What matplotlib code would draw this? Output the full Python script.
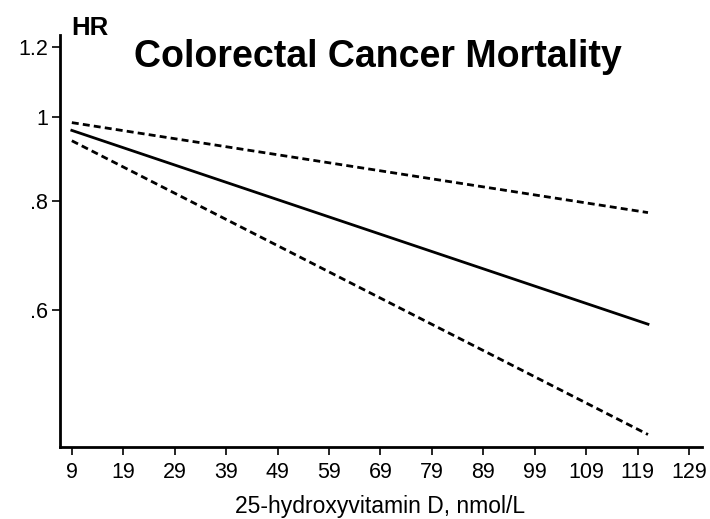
import matplotlib.pyplot as plt
from matplotlib.ticker import FixedLocator, FixedFormatter, NullLocator

plt.rcParams['font.family'] = ['Liberation Sans', 'DejaVu Sans']

# fitted HR (log-linear), read at the two ends of the curve
x_vals = [9, 121]
hr = [0.964, 0.578]
hr_upper = [0.984, 0.776]
hr_lower = [0.938, 0.432]

x_ticks = list(range(9, 130, 10))
y_ticks = [0.6, 0.8, 1.0, 1.2]
y_labels = [".6", ".8", "1", "1.2"]

fig = plt.figure(figsize=(7.1, 5.19), dpi=100)
ax = fig.add_axes([60 / 710, 72 / 519, 642 / 710, 412 / 519])

ax.plot(x_vals, hr, color='black', linewidth=2.0)
ax.plot(x_vals, hr_upper, color='black', linewidth=2.0, linestyle=(0, (2.5, 1.5)))
ax.plot(x_vals, hr_lower, color='black', linewidth=2.0, linestyle=(0, (2.5, 1.5)))

ax.set_yscale('log')
ax.set_ylim(0.418, 1.24)
ax.set_xlim(6.7, 131.5)
ax.yaxis.set_major_locator(FixedLocator(y_ticks))
ax.yaxis.set_major_formatter(FixedFormatter(y_labels))
ax.yaxis.set_minor_locator(NullLocator())
ax.set_xticks(x_ticks)

for side in ['top', 'right']:
    ax.spines[side].set_visible(False)
for side in ['left', 'bottom']:
    ax.spines[side].set_linewidth(2)
ax.tick_params(axis='both', direction='out', length=5.5, width=1.2, labelsize=15.5)
ax.tick_params(axis='x', pad=5)
ax.tick_params(axis='y', pad=3)

fig.text(71 / 710, 1 - 35 / 519, "HR", fontsize=18.5, fontweight='bold', ha='left', va='baseline')
fig.text(378 / 710, 1 - 67 / 519, "Colorectal Cancer Mortality", fontsize=27,
         fontweight='bold', ha='center', va='baseline')
fig.text(380 / 710, 1 - 513 / 519, "25-hydroxyvitamin D, nmol/L", fontsize=16.5,
         ha='center', va='baseline')

fig.savefig('out.png', dpi=100)
